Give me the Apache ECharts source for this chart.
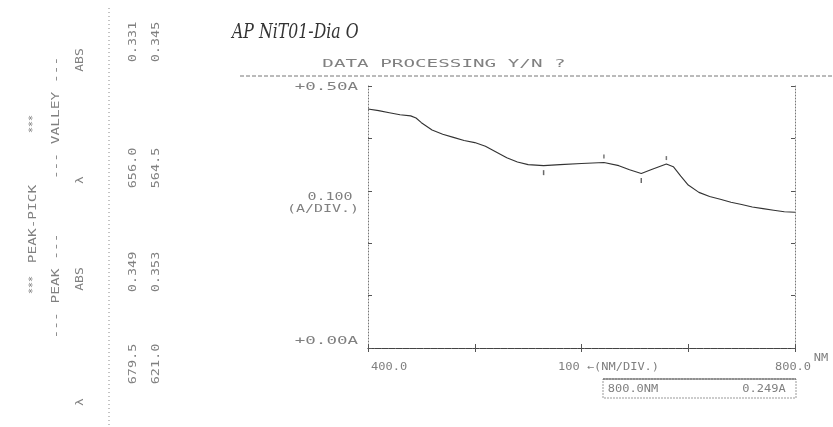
<!DOCTYPE html>
<html><head><meta charset="utf-8">
<script src="https://cdn.jsdelivr.net/npm/echarts@6/dist/echarts.min.js"></script>
<style>html,body{margin:0;padding:0;background:#fff}#c{width:833px;height:427px}</style>
</head><body><div id="c"></div>
<script>
// Spectrum (wavelength nm, absorbance A)
const wavelengths = [400, 410, 420, 430, 440, 445, 450, 460, 470, 480, 490, 500, 510, 520, 530, 540, 550, 564.5, 580, 600, 621, 635, 645, 656, 665, 679.5, 686, 693, 700, 710, 720, 730, 740, 750, 760, 770, 780, 790, 800];
const absorbance  = [0.456, 0.453, 0.449, 0.445, 0.443, 0.439, 0.430, 0.416, 0.408, 0.402, 0.396, 0.392, 0.385, 0.374, 0.363, 0.355, 0.350, 0.348, 0.350, 0.352, 0.354, 0.348, 0.340, 0.333, 0.340, 0.351, 0.346, 0.328, 0.311, 0.297, 0.289, 0.284, 0.278, 0.274, 0.269, 0.266, 0.263, 0.260, 0.259];
// Peak-pick table
const peakNm = [679.5, 621.0];
const peakLabels = ['679.5', '621.0'];
const peakAbsLabels = ['0.349', '0.353'];
const valleyNm = [656.0, 564.5];
const valleyLabels = ['656.0', '564.5'];
const valleyAbsLabels = ['0.331', '0.345'];
// Axis texts
const yTopLabel = '+0.50A', yBottomLabel = '+0.00A', yDivLabel = ['0.100', '(A/DIV.)'];
const xStartLabel = '400.0', xEndLabel = '800.0', xDivLabel = '100 ←(NM/DIV.)';
const readout = ['800.0NM', '0.249A'];
const title = 'DATA PROCESSING Y/N ?';
const note = 'AP NiT01-Dia O';

const chart = echarts.init(document.getElementById('c'));
const lineData = wavelengths.map((w, i) => [w, absorbance[i]]);
const at = w => [w, absorbance[wavelengths.indexOf(w)]];

const axisX = (pos, lineStyle) => ({
  type: 'value', min: 400, max: 800, interval: 100, position: pos,
  axisLine: {show: true, lineStyle},
  axisTick: {show: true, inside: true, length: 4, lineStyle: {color: '#555'}},
  axisLabel: {show: false}, splitLine: {show: false}
});
const axisY = (pos) => ({
  type: 'value', min: 0, max: 0.5, interval: 0.1, position: pos,
  axisLine: {show: true, lineStyle: {color: '#777', type: [1, 2]}},
  axisTick: {show: true, inside: true, length: 4, lineStyle: {color: '#555'}},
  axisLabel: {show: false}, splitLine: {show: false}
});

chart.setOption({
  animation: false,
  backgroundColor: '#fff',
  grid: {left: 368, right: 38, top: 86, bottom: 79},
  xAxis: [axisX('bottom', {color: '#999', type: [3, 1]}), axisX('top', {color: '#444', type: [6, 1]})],
  yAxis: [axisY('left'), axisY('right')],
  series: [
    {type: 'line', data: lineData, symbol: 'none', lineStyle: {color: '#333', width: 1.1}},
    {type: 'scatter', data: peakNm.map(at), symbol: 'rect', symbolSize: [1.5, 4], symbolOffset: [0, -6], itemStyle: {color: '#555'}},
    {type: 'scatter', data: valleyNm.map(at), symbol: 'rect', symbolSize: [1.5, 5], symbolOffset: [0, 7], itemStyle: {color: '#444'}}
  ]
});

const P = (x, y) => chart.convertToPixel({xAxisIndex: 0, yAxisIndex: 0}, [x, y]);
const FONT = 'DejaVu Sans Mono';
function txt(text, x, y, o) {
  o = o || {};
  const align = o.align || 'center';
  return {
    type: 'text', x, y, scaleX: o.sx || 1.6, rotation: o.rot || 0,
    style: {text, font: (o.size || 10) + 'px "' + FONT + '"', fill: o.fill || '#808080',
      align, textAlign: align, verticalAlign: 'middle', textVerticalAlign: 'middle'}
  };
}
const R = Math.PI / 2;
const p0 = P(400, 0), p1 = P(800, 0.5), pm = P(600, 0.25);
const els = [
  // handwritten note
  {type: 'text', x: 232, y: 33, scaleX: 0.75, style: {text: note, font: 'italic 21px "DejaVu Serif"', fill: '#333', align: 'left', textAlign: 'left', verticalAlign: 'middle', textVerticalAlign: 'middle'}},
  txt(title, 444, 64, {size: 11, sx: 1.75}),
  {type: 'line', shape: {x1: 240, y1: 76, x2: 833, y2: 76}, style: {stroke: '#777', lineDash: [4, 2], lineWidth: 1}},
  txt(yTopLabel, p0[0] - 10, p1[1] + 1, {align: 'right', sx: 1.75}),
  txt(yDivLabel[0], p0[0] - 38, pm[1] - 20, {sx: 1.5}),
  txt(yDivLabel[1], p0[0] - 45, pm[1] - 8, {sx: 1.5}),
  txt(yBottomLabel, p0[0] - 10, p0[1] - 7, {align: 'right', sx: 1.75}),
  txt(xStartLabel, p0[0] + 3, p0[1] + 19, {align: 'left', sx: 1.2}),
  txt(xEndLabel, p1[0] - 2, p0[1] + 19, {sx: 1.2}),
  txt('NM', p1[0] + 26, p0[1] + 10, {sx: 1.2}),
  txt(xDivLabel, pm[0] + 27, p0[1] + 19, {sx: 1.2}),
  {type: 'rect', shape: {x: 603, y: 379, width: 193, height: 19}, style: {stroke: '#999', fill: 'none', lineDash: [2, 1]}},
  {type: 'line', shape: {x1: 603, y1: 379, x2: 796, y2: 379}, style: {stroke: '#555'}},
  txt(readout[0], 633, 389, {sx: 1.2}),
  txt(readout[1], 764, 389, {sx: 1.2}),
  // left peak-pick strip (rotated)
  {type: 'line', shape: {x1: 109, y1: 8, x2: 109, y2: 427}, style: {stroke: '#888', lineDash: [1, 3]}},
  txt('***', 33, 285, {rot: R, sx: 1.0}),
  txt('PEAK-PICK', 33, 224, {rot: R, sx: 1.45}),
  txt('***', 33, 124, {rot: R, sx: 1.0}),
  txt('--- PEAK ---', 56, 286, {rot: R, sx: 1.45}),
  txt('--- VALLEY ---', 56, 118, {rot: R, sx: 1.45}),
  txt('λ', 80, 402, {rot: R, sx: 1.3}),
  txt('ABS', 80, 279, {rot: R, sx: 1.3}),
  txt('λ', 80, 180, {rot: R, sx: 1.3}),
  txt('ABS', 80, 60, {rot: R, sx: 1.3})
];
const colX = [133, 156];
for (let i = 0; i < 2; i++) {
  els.push(txt(peakLabels[i], colX[i], 364, {rot: R, sx: 1.35}));
  els.push(txt(peakAbsLabels[i], colX[i], 272, {rot: R, sx: 1.35}));
  els.push(txt(valleyLabels[i], colX[i], 168, {rot: R, sx: 1.35}));
  els.push(txt(valleyAbsLabels[i], colX[i], 42, {rot: R, sx: 1.35}));
}
chart.setOption({graphic: {elements: els}});
</script></body></html>
